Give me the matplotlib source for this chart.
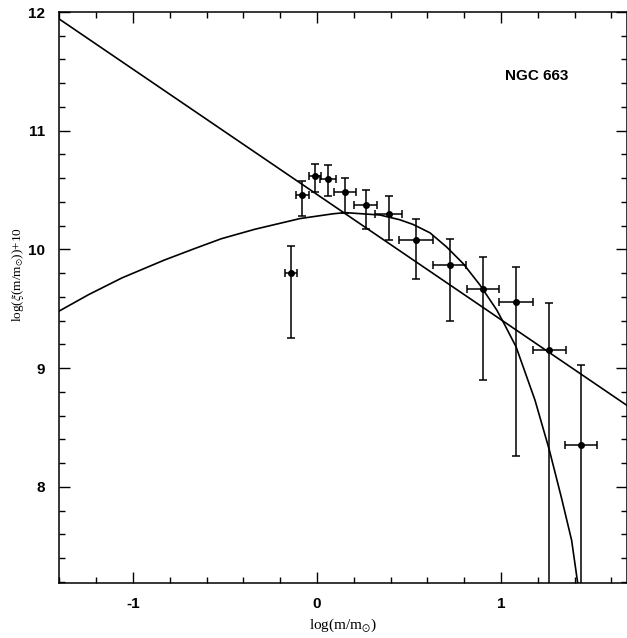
import matplotlib
matplotlib.use("Agg")
import matplotlib.pyplot as plt
from matplotlib.ticker import MultipleLocator

# Data points (log m, log xi + 10) with errors
x_pts = [-0.143, -0.080, -0.011, 0.062, 0.152, 0.265, 0.391, 0.538, 0.721, 0.902, 1.082, 1.263, 1.437]
y_pts = [9.80, 10.46, 10.62, 10.59, 10.48, 10.37, 10.30, 10.08, 9.87, 9.67, 9.56, 9.15, 8.35]
y_top = [10.03, 10.58, 10.72, 10.71, 10.60, 10.50, 10.45, 10.26, 10.09, 9.94, 9.85, 9.55, 9.03]
y_bot = [9.25, 10.28, 10.48, 10.45, 10.31, 10.17, 10.08, 9.75, 9.40, 8.90, 8.26, 7.0, 7.0]
x_err = [0.032, 0.035, 0.035, 0.043, 0.058, 0.064, 0.073, 0.092, 0.088, 0.089, 0.090, 0.089, 0.087]

# Power-law (straight line)
line_x = [-1.40, 1.70]
line_y = [11.94, 8.67]

# Curved fit
curve_x = [-1.402, -1.24, -1.06, -0.83, -0.66, -0.52, -0.337, -0.092, 0.087, 0.152, 0.342,
           0.45, 0.523, 0.614, 0.705, 0.795, 0.886, 0.977, 1.022, 1.082, 1.185, 1.263,
           1.33, 1.384, 1.417]
curve_y = [9.48, 9.62, 9.76, 9.91, 10.01, 10.09, 10.17, 10.26, 10.30, 10.31, 10.29,
           10.25, 10.21, 10.14, 10.02, 9.88, 9.70, 9.49, 9.36, 9.18, 8.73, 8.31,
           7.90, 7.55, 7.19]

x_ticks = [-1, 0, 1]
x_ticklabels = ["-1", "0", "1"]
y_ticks = [8, 9, 10, 11, 12]
y_ticklabels = ["8", "9", "10", "11", "12"]

plt.rcParams['mathtext.fontset'] = 'stix'

fig = plt.figure(figsize=(6.27, 6.38), dpi=100)
ax = fig.add_axes([59/627, 55/638, 1 - 59/627, (583 - 12)/638])

ax.plot(line_x, line_y, color='black', lw=1.2)
ax.plot(curve_x, curve_y, color='black', lw=1.2)

yerr_lo = [y - b for y, b in zip(y_pts, y_bot)]
yerr_hi = [t - y for y, t in zip(y_pts, y_top)]
ax.errorbar(x_pts, y_pts, yerr=[yerr_lo, yerr_hi], xerr=x_err, fmt='o', color='black',
            ms=4, elinewidth=1.1, capsize=3, capthick=1.1)

ax.set_xlim(-1.402, 1.685)
ax.set_ylim(7.19, 12.0)

ax.set_xticks(x_ticks)
ax.set_xticklabels(x_ticklabels, fontsize=11, fontweight='bold', family='Liberation Sans')
ax.set_yticks(y_ticks)
ax.set_yticklabels(y_ticklabels, fontsize=11, fontweight='bold', family='Liberation Sans')
ax.xaxis.set_minor_locator(MultipleLocator(0.2))
ax.yaxis.set_minor_locator(MultipleLocator(0.2))
ax.tick_params(which='both', direction='in', top=True, right=True, width=1)
ax.tick_params(which='major', length=8, pad=10)
ax.tick_params(which='minor', length=4)
for s in ax.spines.values():
    s.set_linewidth(1.1)

ax.set_xlabel(r'log(m/m$_{\odot}$)', fontsize=11, family='Liberation Serif', labelpad=4)
ax.set_ylabel(r'log($\xi$(m/m$_{\odot}$))+10', fontsize=9.5, family='Liberation Serif')
ax.yaxis.set_label_coords(-0.058, 0.541)

ax.text(1.02, 11.46, 'NGC 663', fontsize=11, fontweight='bold', family='Liberation Sans',
        va='center', ha='left')

fig.savefig('out.png', dpi=100)
